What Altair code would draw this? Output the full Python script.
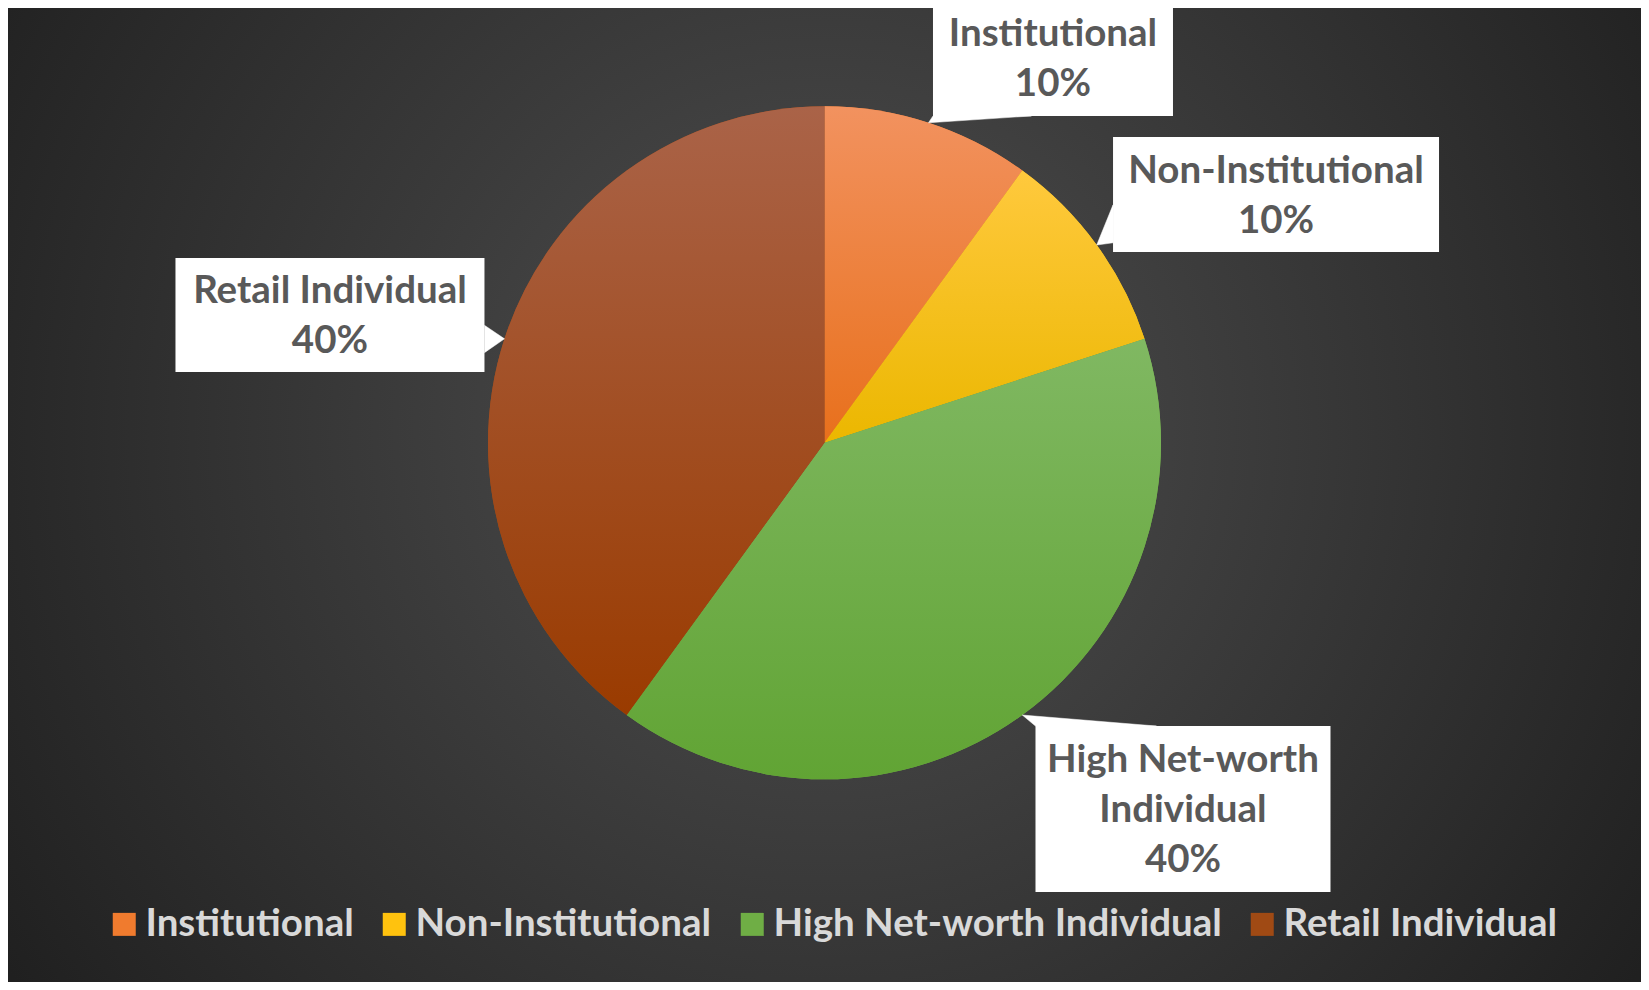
import altair as alt
import pandas as pd

# ---------------- data ----------------
categories = ["Institutional", "Non-Institutional", "High Net-worth Individual", "Retail Individual"]
values = [10, 10, 40, 40]

# ---------------- styles ----------------
solid_colors = ["#F07B2E", "#FFC20E", "#6FAE45", "#A04A14"]
grad_top = ["#F2925F", "#FFC93D", "#80B862", "#AA6348"]
grad_bottom = ["#E8701C", "#EBB700", "#61A434", "#9A3B00"]
FONT = "Lato"
LABEL_SIZE = 38.5
LINE_H = 50

# ---------------- layout ----------------
W, H = 1633, 974
CX, CY, R = 816.5, 434.8, 336.5
wrap = {"High Net-worth Individual": "High Net-worth|Individual"}
# callout box centre relative to the slice's mid-edge point, box size
label_offset = {
    "Institutional": (124.5, -64.8, 240, 116),
    "Non-Institutional": (179.3, -50.5, 326, 115),
    "High Net-worth Individual": (160.7, 94.0, 295, 166),
    "Retail Individual": (-174.5, -23.8, 309, 114),
}
# pointer base points on the box edge (fractions of box width / height from its centre)
ptr_base = {
    "Institutional": (-0.5, 0.5, -0.09, 0.5),
    "Non-Institutional": (-0.5, 0.09, -0.5, 0.42),
    "High Net-worth Individual": (-0.5, -0.5, -0.09, -0.5),
    "Retail Individual": (0.5, 0.09, 0.5, 0.33),
}

df = pd.DataFrame({
    "category": categories,
    "value": values,
    "idx": list(range(len(categories))),
    "wrapped": [wrap.get(c, c) for c in categories],
    "ox": [label_offset[c][0] for c in categories],
    "oy": [label_offset[c][1] for c in categories],
    "bw": [label_offset[c][2] for c in categories],
    "bh": [label_offset[c][3] for c in categories],
    "p1x": [ptr_base[c][0] for c in categories],
    "p1y": [ptr_base[c][1] for c in categories],
    "p2x": [ptr_base[c][2] for c in categories],
    "p2y": [ptr_base[c][3] for c in categories],
})

base = alt.Chart(df)


def with_geometry(ch):
    return (
        ch.transform_joinaggregate(total="sum(value)")
        .transform_window(cum="sum(value)", sort=[alt.SortField("idx")], frame=[None, 0])
        .transform_calculate(mid="(datum.cum - datum.value/2) / datum.total * 2 * PI")
        .transform_calculate(
            tipx=f"{CX} + {R} * sin(datum.mid)",
            tipy=f"{CY} - {R} * cos(datum.mid)",
        )
        .transform_calculate(bx="datum.tipx + datum.ox", by="datum.tipy + datum.oy")
    )


# background radial gradient
bg = alt.Chart(pd.DataFrame({"a": [0]})).mark_rect(
    fill=alt.Gradient(
        gradient="radial",
        stops=[alt.GradientStop(offset=0, color="#505050"), alt.GradientStop(offset=1, color="#202020")],
        x1=0.5, y1=0.46, r1=0, x2=0.5, y2=0.46, r2=0.6,
    )
).encode(x=alt.value(0), x2=alt.value(W), y=alt.value(0), y2=alt.value(H))

shadow = alt.Chart(pd.DataFrame({"a": [0]})).mark_circle(color="#000000", opacity=0.22).encode(
    x=alt.value(CX + 1), y=alt.value(CY + 3), size=alt.value(3.14159 * (R + 3) ** 2)
)

pie = base.mark_arc(radius=R, strokeWidth=0).encode(
    theta=alt.Theta("value:Q", stack=True),
    order=alt.Order("idx:Q"),
    color=alt.Color(
        "category:N",
        scale=alt.Scale(domain=categories, range=solid_colors),
        legend=alt.Legend(
            orient="none", legendX=97, legendY=897, direction="horizontal", title=None,
            symbolType="square", symbolSize=529, symbolStrokeWidth=0,
            labelFont=FONT, labelFontSize=LABEL_SIZE, labelFontWeight="bold", labelColor="#D9D9D9",
            labelOffset=2, columnPadding=21, padding=0, labelLimit=800,
        ),
    ),
    x=alt.value(CX), y=alt.value(CY),
)


def grad(i):
    return {
        "gradient": "linear", "x1": 0, "y1": 0, "x2": 0, "y2": 1,
        "stops": [{"offset": 0, "color": grad_top[i]}, {"offset": 1, "color": grad_bottom[i]}],
    }


fill_rule = alt.when(alt.datum.category == categories[0]).then(alt.value(grad(0)))
for i in range(1, len(categories) - 1):
    fill_rule = fill_rule.when(alt.datum.category == categories[i]).then(alt.value(grad(i)))
fill_rule = fill_rule.otherwise(alt.value(grad(len(categories) - 1)))

pie_grad = base.mark_arc(radius=R, strokeWidth=0).encode(
    theta=alt.Theta("value:Q", stack=True),
    order=alt.Order("idx:Q"),
    fill=fill_rule,
    x=alt.value(CX), y=alt.value(CY),
)

pointers = (
    with_geometry(base)
    .transform_calculate(k="[0, 1, 2]")
    .transform_flatten(["k"])
    .transform_calculate(
        px="datum.k == 0 ? datum.tipx : datum.bx + (datum.k == 1 ? datum.p1x : datum.p2x) * datum.bw",
        py="datum.k == 0 ? datum.tipy : datum.by + (datum.k == 1 ? datum.p1y : datum.p2y) * datum.bh",
    )
    .mark_line(fill="white", stroke="white", strokeWidth=0.5, interpolate="linear-closed")
    .encode(
        x=alt.X("px:Q", scale=None),
        y=alt.Y("py:Q", scale=None),
        detail="category:N",
        order=alt.Order("k:Q"),
    )
)

boxes = (
    with_geometry(base)
    .transform_calculate(
        x1="datum.bx - datum.bw/2", x2="datum.bx + datum.bw/2",
        y1="datum.by - datum.bh/2", y2="datum.by + datum.bh/2",
    )
    .mark_rect(fill="white", strokeWidth=0)
    .encode(
        x=alt.X("x1:Q", scale=None), x2="x2:Q",
        y=alt.Y("y1:Q", scale=None), y2="y2:Q",
    )
)

texts = (
    with_geometry(base)
    .transform_calculate(lines="split(datum.wrapped + '|' + format(datum.value / datum.total, '.0%'), '|')")
    .transform_calculate(ty=f"datum.by - (length(datum.lines) - 1) / 2 * {LINE_H} + 1")
    .mark_text(font=FONT, fontSize=LABEL_SIZE, fontWeight="bold", color="#595959", lineHeight=LINE_H,
               align="center", baseline="middle")
    .encode(
        x=alt.X("bx:Q", scale=None),
        y=alt.Y("ty:Q", scale=None),
        text=alt.Text("lines:N"),
    )
)

chart = (
    alt.layer(bg, shadow, pie, pie_grad, pointers, boxes, texts)
    .properties(width=W, height=H, autosize=alt.AutoSizeParams(type="none"), padding=0,
                background="#2a2a2a")
    .configure_view(stroke=None)
)

chart.save("out.html", embed_options={"renderer": "svg", "actions": False})
